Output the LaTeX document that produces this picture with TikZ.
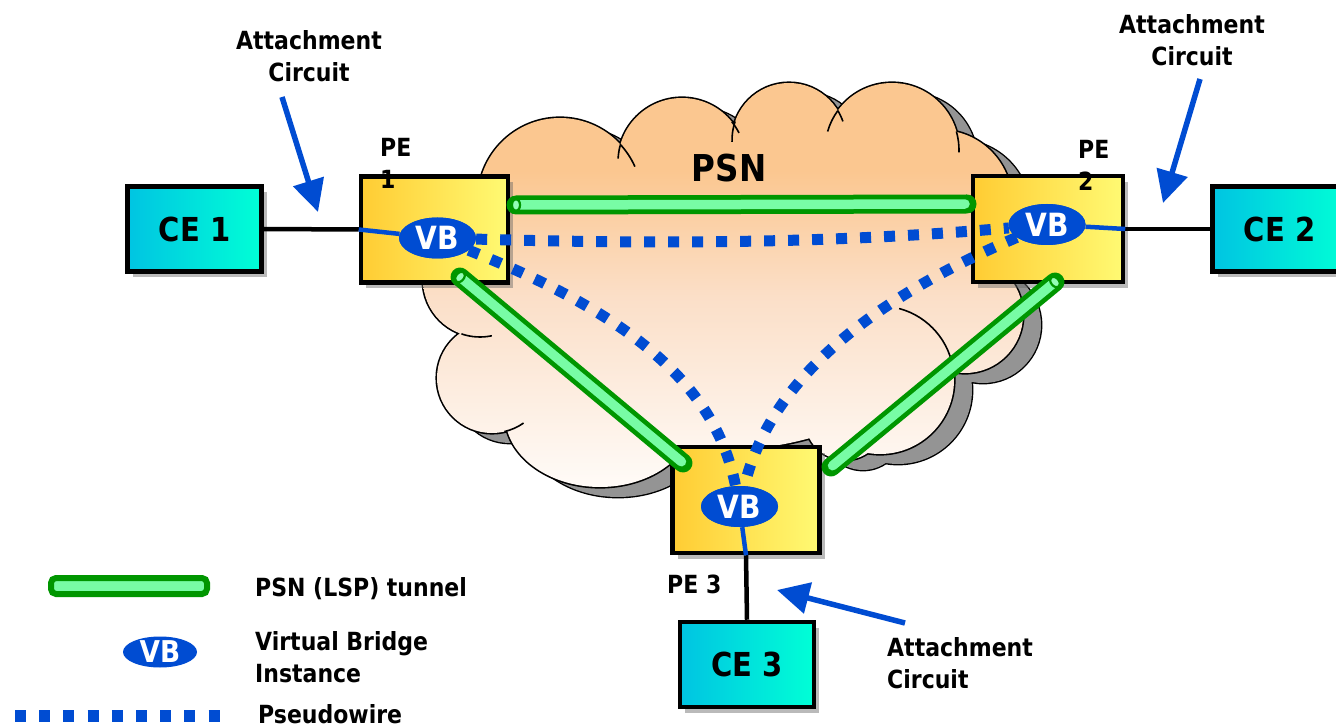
\documentclass[tikz,border=0pt]{standalone}
\usepackage{fontspec}
\newfontfamily\lblfont{DejaVu Sans}[FakeStretch=0.88]
\usetikzlibrary{arrows.meta,shapes.geometric,shadows}
\definecolor{ceL}{RGB}{0,196,226}
\definecolor{ceR}{RGB}{0,255,214}
\definecolor{peL}{RGB}{255,204,51}
\definecolor{peR}{RGB}{255,250,115}
\definecolor{vbblue}{RGB}{0,76,210}
\definecolor{tdark}{RGB}{0,150,0}
\definecolor{tlight}{RGB}{120,252,165}
\definecolor{shgray}{RGB}{148,148,148}
\definecolor{cloudW}{RGB}{255,253,251}
\definecolor{cloudM}{RGB}{251,223,200}
\definecolor{cloudO}{RGB}{251,199,144}
\pgfdeclareverticalshading{cloudsh}{100bp}{color(0bp)=(cloudW); color(25bp)=(cloudW); color(49bp)=(cloudM); color(64bp)=(cloudO); color(100bp)=(cloudO)}
\newcommand\fLbl{\lblfont\bfseries\fontsize{25}{32}\selectfont}
\newcommand\cloudbumps{(560,200) circle[radius=82] (682,162) circle[radius=64] (789,140) circle[radius=57] (892,150) circle[radius=67] (940,202) circle[radius=72] (965,315) circle[radius=58] (880,380) circle[radius=74] (845,420) circle[radius=40] (600,415) ellipse[x radius=95,y radius=72] (492,378) circle[radius=55] (480,280) circle[radius=57] (720,300) ellipse[x radius=230,y radius=150]}
\tikzset{
  boxshadow/.style={drop shadow={shadow xshift=5pt,shadow yshift=-6pt,fill=black!60,opacity=0.45}},
  cebox/.style={draw=black,line width=4.5pt,left color=ceL,right color=ceR,minimum width=134pt,minimum height=85pt,inner sep=0pt,font=\lblfont\bfseries\fontsize{33}{33}\selectfont,boxshadow},
  pebox/.style={draw=black,line width=4.5pt,left color=peL,right color=peR,minimum width=147pt,minimum height=106pt,inner sep=0pt,boxshadow},
  vbnode/.style={ellipse,fill=vbblue,text=white,minimum width=77pt,minimum height=41pt,inner sep=0pt,font=\lblfont\bfseries\fontsize{32}{32}\selectfont},
  lbl/.style={inner sep=0pt,font=\fLbl},
  tunnelout/.style={line width=19pt,draw=tdark,line cap=round},
  tunnelin/.style={line width=9.5pt,draw=tlight,line cap=round,shorten <=2pt,shorten >=2pt},
  capell/.style={ellipse,draw=tdark,fill=tlight!80!white,line width=2.2pt,minimum width=8pt,minimum height=12pt,inner sep=0pt},
  pw/.style={draw=vbblue,line width=11pt,dash pattern=on 11pt off 13pt},
  acarrow/.style={draw=vbblue,line width=5.5pt,-{Triangle[length=32pt,width=31pt]}},
  aclink/.style={draw=black,line width=4.5pt},
  vblink/.style={draw=vbblue,line width=4.5pt},
  cloudarc/.style={draw=black,line width=1.6pt},
  legtunnel/.style={draw=tdark,fill=tlight,line width=6pt,rounded corners=5pt,minimum width=156pt,minimum height=16pt,inner sep=0pt}
}
\begin{document}
\begin{tikzpicture}[x=1pt,y=-1pt]
\useasboundingbox (0,0) rectangle (1336,727);
\fill[white] (0,0) rectangle (1336,727);
% cloud shadow
\begin{scope}[shift={(18,10)}]
  \draw[line width=2.8pt] \cloudbumps;
  \fill[shgray] \cloudbumps;
\end{scope}
% cloud
\draw[line width=3.2pt] \cloudbumps;
\begin{scope}
  \clip \cloudbumps;
  \shade[shading=cloudsh] (400,78) rectangle (1080,500);
\end{scope}
% inner arcs of the cloud
\draw[cloudarc] (880,380) ++(-75:74) arc[start angle=-75,end angle=-6,radius=74];
\draw[cloudarc] (480,280) ++(109:57) arc[start angle=109,end angle=78,radius=57];
\draw[cloudarc] (492,378) ++(77:55) arc[start angle=77,end angle=55,radius=55];
\draw[cloudarc] (560,200) ++(-43:82) arc[start angle=-43,end angle=-24,radius=82];
\draw[cloudarc] (682,162) ++(195:64) arc[start angle=195,end angle=183,radius=64];
\draw[cloudarc] (682,162) ++(-39:64) arc[start angle=-39,end angle=-27,radius=64];
\draw[cloudarc] (789,140) ++(199:57) arc[start angle=199,end angle=178,radius=57];
\draw[cloudarc] (789,140) ++(-31:57) arc[start angle=-31,end angle=-19,radius=57];
\draw[cloudarc] (892,150) ++(216:67) arc[start angle=216,end angle=196,radius=67];
\draw[cloudarc] (892,150) ++(-16:67) arc[start angle=-16,end angle=2,radius=67];
\node[lbl,anchor=base,font=\lblfont\bfseries\fontsize{37}{37}\selectfont] (psn) at (729,182) {PSN};
% boxes
\node[cebox] (CE1) at (194.5,229) {CE 1};
\node[cebox] (CE2) at (1279.5,229) {CE 2};
\node[cebox] (CE3) at (747,664.5) {CE 3};
\node[pebox] (PE1) at (434.5,229.5) {};
\node[pebox,minimum width=150pt] (PE2) at (1048,229) {};
\node[pebox] (PE3) at (746,500) {};
% attachment circuits
\draw[aclink] (CE1.east) -- (PE1.west);
\draw[aclink] (PE2.east) -- (CE2.west);
\draw[aclink] (PE3.south) -- (CE3.north);
% tunnels
\coordinate (T12a) at (516,205); \coordinate (T12b) at (967,204);
\coordinate (T13a) at (460,277); \coordinate (T13b) at (683,463);
\coordinate (T23a) at (1055,282); \coordinate (T23b) at (831,467);
\draw[tunnelout] (T12a) -- (T12b); \draw[tunnelin] (T12a) -- (T12b);
\draw[tunnelout] (T13a) -- (T13b); \draw[tunnelin] (T13a) -- (T13b);
\draw[tunnelout] (T23a) -- (T23b); \draw[tunnelin] (T23a) -- (T23b);
\node[capell] (c12) at (T12a) {};
\node[capell,rotate=-39.8] (c13) at (T13a) {};
\node[capell,rotate=39.6] (c23) at (T23a) {};
% pseudowires
\node[vbnode] (VB1) at (437.5,238) {VB};
\node[vbnode] (VB2) at (1047,224.5) {VB};
\node[vbnode] (VB3) at (739.5,506.5) {VB};
\draw[pw] (VB1) .. controls (650,244) and (830,244) .. (VB2);
\draw[pw] (VB1) .. controls (620,310) and (715,380) .. (VB3);
\draw[pw] (VB2) .. controls (870,300) and (770,380) .. (VB3);
% VB instances on top
\node[vbnode] at (VB1) {VB};
\node[vbnode] at (VB2) {VB};
\node[vbnode] at (VB3) {VB};
\draw[vblink] (PE1.west) -- (VB1);
\draw[vblink] (VB2) -- (PE2.east);
\draw[vblink] (VB3) -- (PE3.south);
% PE labels
\node[lbl,align=left,anchor=north west] (pe1l) at (380,138) {PE\\1};
\node[lbl,align=left,anchor=north west] (pe2l) at (1078,140) {PE\\2};
\node[lbl,anchor=base west] (pe3l) at (667,593) {PE 3};
% attachment circuit labels and arrows
\node[lbl,align=center,anchor=north] (acL) at (309,30) {Attachment\\Circuit};
\node[lbl,align=center,anchor=north] (acR) at (1192,14) {Attachment\\Circuit};
\node[lbl,align=left,anchor=north west] (acB) at (887,637) {Attachment\\Circuit};
\coordinate (aL1) at (282,97); \coordinate (aL2) at (318,212);
\coordinate (aR1) at (1200,79); \coordinate (aR2) at (1163,203);
\coordinate (aB1) at (905,623); \coordinate (aB2) at (777,590);
\draw[acarrow] (aL1) -- (aL2);
\draw[acarrow] (aR1) -- (aR2);
\draw[acarrow] (aB1) -- (aB2);
% legend
\node[legtunnel] (lgT) at (129,586) {};
\node[lbl,anchor=base west] (lgTt) at (255,596) {PSN (LSP) tunnel};
\node[vbnode,minimum width=74pt,minimum height=31pt,font=\lblfont\bfseries\fontsize{30}{30}\selectfont] (lgVB) at (160,652) {VB};
\node[lbl,align=left,anchor=north west] (lgVBt) at (255,631) {Virtual Bridge\\Instance};
\coordinate (lgP1) at (15,716); \coordinate (lgP2) at (222,716);
\draw[pw,line width=12pt,dash pattern=on 11pt off 13.2pt] (lgP1) -- (lgP2);
\node[lbl,anchor=base west] (lgPt) at (258,723) {Pseudowire};
\end{tikzpicture}
\end{document}
